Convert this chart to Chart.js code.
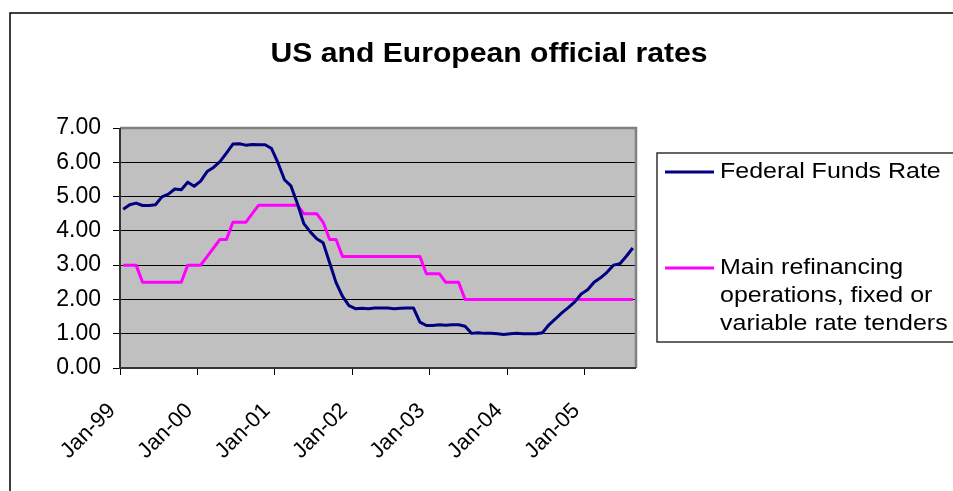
<!DOCTYPE html>
<html><head><meta charset="utf-8">
<script src="https://cdn.jsdelivr.net/npm/chart.js@4.4.1/dist/chart.umd.min.js"></script>
<style>html,body{margin:0;padding:0;background:#fff;overflow:hidden}</style>
</head><body>
<canvas id="c" width="953" height="491"></canvas>
<script>
const titleText = 'US and European official rates';
const months = [
 'Jan-99','Feb-99','Mar-99','Apr-99','May-99','Jun-99','Jul-99','Aug-99','Sep-99','Oct-99','Nov-99','Dec-99',
 'Jan-00','Feb-00','Mar-00','Apr-00','May-00','Jun-00','Jul-00','Aug-00','Sep-00','Oct-00','Nov-00','Dec-00',
 'Jan-01','Feb-01','Mar-01','Apr-01','May-01','Jun-01','Jul-01','Aug-01','Sep-01','Oct-01','Nov-01','Dec-01',
 'Jan-02','Feb-02','Mar-02','Apr-02','May-02','Jun-02','Jul-02','Aug-02','Sep-02','Oct-02','Nov-02','Dec-02',
 'Jan-03','Feb-03','Mar-03','Apr-03','May-03','Jun-03','Jul-03','Aug-03','Sep-03','Oct-03','Nov-03','Dec-03',
 'Jan-04','Feb-04','Mar-04','Apr-04','May-04','Jun-04','Jul-04','Aug-04','Sep-04','Oct-04','Nov-04','Dec-04',
 'Jan-05','Feb-05','Mar-05','Apr-05','May-05','Jun-05','Jul-05','Aug-05'
];
const fedFunds = [
 4.63,4.76,4.81,4.74,4.74,4.76,4.99,5.07,5.22,5.20,5.42,5.30,
 5.45,5.73,5.85,6.02,6.27,6.53,6.54,6.50,6.52,6.51,6.51,6.40,
 5.98,5.49,5.31,4.80,4.21,3.97,3.77,3.65,3.07,2.49,2.09,1.82,
 1.73,1.74,1.73,1.75,1.75,1.75,1.73,1.74,1.75,1.75,1.34,1.24,
 1.24,1.26,1.25,1.26,1.26,1.22,1.01,1.03,1.01,1.01,1.00,0.98,
 1.00,1.01,1.00,1.00,1.00,1.03,1.26,1.43,1.61,1.76,1.93,2.16,
 2.28,2.50,2.63,2.79,3.00,3.04,3.26,3.50
];
const mainRefi = [
 3.00,3.00,3.00,2.50,2.50,2.50,2.50,2.50,2.50,2.50,3.00,3.00,
 3.00,3.25,3.50,3.75,3.75,4.25,4.25,4.25,4.50,4.75,4.75,4.75,
 4.75,4.75,4.75,4.75,4.50,4.50,4.50,4.25,3.75,3.75,3.25,3.25,
 3.25,3.25,3.25,3.25,3.25,3.25,3.25,3.25,3.25,3.25,3.25,2.75,
 2.75,2.75,2.50,2.50,2.50,2.00,2.00,2.00,2.00,2.00,2.00,2.00,
 2.00,2.00,2.00,2.00,2.00,2.00,2.00,2.00,2.00,2.00,2.00,2.00,
 2.00,2.00,2.00,2.00,2.00,2.00,2.00,2.00
];
const tickLabels = ['Jan-99','Jan-00','Jan-01','Jan-02','Jan-03','Jan-04','Jan-05'];
const legendLines = [['Federal Funds Rate'], ['Main refinancing','operations, fixed or','variable rate tenders']];
const seriesColors = ['#000080', '#FF00FF'];

const tickPositions = tickLabels.map(l => months.indexOf(l));
const toPoints = arr => arr.map((v, i) => ({x: i + 0.5, y: v}));
const FONT = '"Liberation Sans", Arial, sans-serif';

const decor = {
  id: 'decor',
  beforeDraw(chart) {
    const {ctx, chartArea: a} = chart;
    ctx.save();
    ctx.fillStyle = '#fff'; ctx.fillRect(0, 0, chart.width, chart.height);
    ctx.strokeStyle = '#000'; ctx.lineWidth = 1.5;
    ctx.strokeRect(10, 13, chart.width + 20, chart.height + 20);
    ctx.fillStyle = '#C0C0C0';
    ctx.fillRect(a.left, a.top, a.right - a.left, a.bottom - a.top);
    ctx.restore();
  },
  beforeDatasetsDraw(chart) {
    const {ctx, chartArea: a} = chart;
    ctx.save();
    ctx.lineWidth = 2.5; ctx.strokeStyle = '#808080';
    ctx.beginPath(); ctx.moveTo(a.left, a.top); ctx.lineTo(a.right, a.top); ctx.lineTo(a.right, a.bottom); ctx.stroke();
    ctx.strokeStyle = '#333'; ctx.lineWidth = 2;
    ctx.beginPath(); ctx.moveTo(a.left, a.top); ctx.lineTo(a.left, a.bottom); ctx.lineTo(a.right, a.bottom); ctx.stroke();
    ctx.restore();
  },
  afterDraw(chart) {
    const ctx = chart.ctx;
    // title
    ctx.save();
    ctx.font = 'bold 27px ' + FONT;
    ctx.fillStyle = '#000'; ctx.textAlign = 'center'; ctx.textBaseline = 'alphabetic';
    ctx.translate(489, 62); ctx.scale(1.116, 1);
    ctx.fillText(titleText, 0, 0);
    ctx.restore();
    // legend
    ctx.save();
    ctx.strokeStyle = '#333'; ctx.lineWidth = 1.5;
    ctx.strokeRect(657, 153, 330, 189);
    const rows = [172, 268];
    chart.data.datasets.forEach((ds, i) => {
      const y = rows[i];
      ctx.strokeStyle = ds.borderColor; ctx.lineWidth = 3;
      ctx.beginPath(); ctx.moveTo(665, y); ctx.lineTo(714, y); ctx.stroke();
      ctx.fillStyle = '#000'; ctx.font = '22.5px ' + FONT;
      ctx.textAlign = 'left'; ctx.textBaseline = 'middle';
      legendLines[i].forEach((t, k) => {
        ctx.save();
        ctx.translate(720, y + k * 28); ctx.scale(1.11, 1);
        ctx.fillText(t, 0, 0);
        ctx.restore();
      });
    });
    ctx.restore();
  }
};

new Chart(document.getElementById('c'), {
  type: 'line',
  data: {
    datasets: [
      {label: legendLines[0].join(' '), data: toPoints(fedFunds), borderColor: seriesColors[0], borderWidth: 3, pointRadius: 0, tension: 0, fill: false, borderJoinStyle: 'round'},
      {label: legendLines[1].join(' '), data: toPoints(mainRefi), borderColor: seriesColors[1], borderWidth: 3, pointRadius: 0, tension: 0, fill: false, borderJoinStyle: 'round'}
    ]
  },
  options: {
    responsive: false,
    animation: false,
    devicePixelRatio: 1,
    layout: {padding: {left: 10, top: 128, right: 317, bottom: 0}},
    plugins: {legend: {display: false}, title: {display: false}, tooltip: {enabled: false}},
    scales: {
      x: {
        type: 'linear', position: 'bottom', min: 0, max: months.length,
        afterBuildTicks: s => { s.ticks = tickPositions.map(v => ({value: v})); },
        afterFit: s => { s.height = 123; },
        grid: {drawOnChartArea: false, drawTicks: true, tickLength: 7, color: '#000', lineWidth: 1},
        border: {display: false},
        ticks: {
          autoSkip: false, minRotation: 45, maxRotation: 45, padding: 23, labelOffset: -8,
          color: '#000', font: {family: FONT, size: 22},
          callback: v => { const k = tickPositions.indexOf(v); return k >= 0 ? tickLabels[k] : ''; }
        }
      },
      y: {
        min: 0, max: 7,
        afterFit: s => { s.width = 110; },
        grid: {color: '#000', lineWidth: 1, tickLength: 7, drawTicks: true},
        border: {display: false},
        ticks: {stepSize: 1, padding: 12, color: '#000', font: {family: FONT, size: 23}, callback: v => v.toFixed(2)}
      }
    }
  },
  plugins: [decor]
});
</script>
</body></html>
